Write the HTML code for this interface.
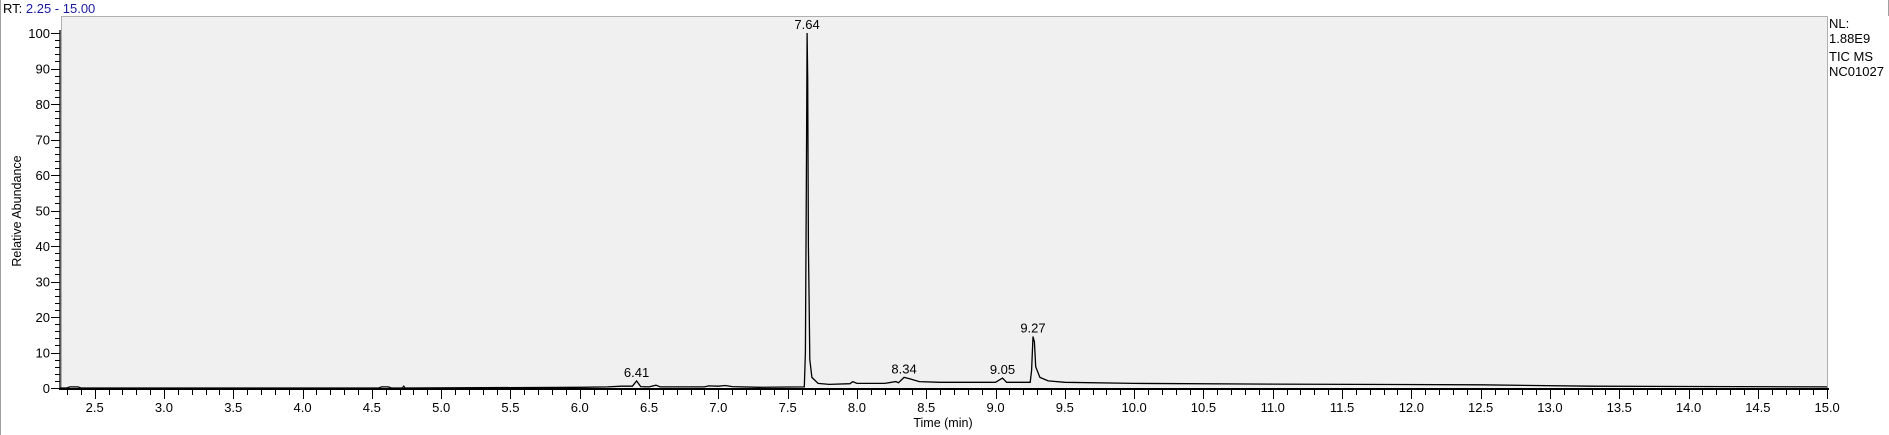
<!DOCTYPE html>
<html><head><meta charset="utf-8"><style>
html,body{margin:0;padding:0;background:#fff;width:1889px;height:435px;overflow:hidden}
svg{display:block;font-family:"Liberation Sans",Arial,sans-serif}
</style></head><body>
<svg width="1889" height="435" xmlns="http://www.w3.org/2000/svg">
<line x1="0.5" y1="0" x2="0.5" y2="435" stroke="#a0a0a0"/>
<line x1="1888.5" y1="0" x2="1888.5" y2="16" stroke="#a0a0a0"/>
<text x="3" y="13" font-size="13"><tspan fill="#000">RT: </tspan><tspan fill="#1a1aa0">2.25 - 15.00</tspan></text>
<rect x="61.5" y="16.5" width="1766" height="372" fill="#f0f0f0" stroke="#b0b0b0"/>
<g font-size="13" fill="#000">
<text x="1829" y="28">NL:</text><text x="1829" y="43">1.88E9</text>
<text x="1829" y="61">TIC  MS</text><text x="1829" y="76">NC01027</text>
</g>
<g id="axes"></g>
<path id="trace" fill="none" stroke="#000" stroke-width="1.3"/>
<g id="labels" font-size="13" fill="#000" text-anchor="middle"></g>
<text x="943" y="427" font-size="12.5" text-anchor="middle">Time (min)</text>
<text x="0" y="0" font-size="12.5" text-anchor="middle" transform="translate(21,211) rotate(-90)">Relative Abundance</text>
</svg>
<script>
const times=[2.25,2.3,2.32,2.38,2.4,4.55,4.57,4.62,4.64,4.72,4.73,4.74,6.0,6.2,6.3,6.38,6.41,6.44,6.5,6.55,6.58,6.9,6.93,7.0,7.05,7.1,7.3,7.62,7.628,7.635,7.64,7.645,7.65,7.655,7.66,7.675,7.72,7.8,7.95,7.97,8.0,8.2,8.28,8.3,8.34,8.38,8.45,8.6,9.0,9.05,9.08,9.25,9.26,9.27,9.28,9.29,9.32,9.38,9.5,10,11,12.5,13.3,15];
const abundance=[0,0,0.3,0.3,0,0,0.3,0.3,0,0,0.5,0,0.2,0.3,0.5,0.5,2.0,0.4,0.3,0.8,0.3,0.3,0.6,0.5,0.7,0.4,0.2,0.3,10,60,100,87,40,25,8,3,1.3,1.0,1.2,1.8,1.3,1.3,1.8,1.5,3,2.6,1.8,1.6,1.6,2.8,1.6,1.6,5,14.5,13,6,3,2,1.6,1.3,1.1,0.9,0.5,0.3];
const peakLabels=["6.41","7.64","8.34","9.05","9.27"];
const peakTimes=[6.41,7.64,8.34,9.05,9.27];
const peakHeights=[2.0,100,3,2.8,14.5];
const xTickLabels=["2.5","3.0","3.5","4.0","4.5","5.0","5.5","6.0","6.5","7.0","7.5","8.0","8.5","9.0","9.5","10.0","10.5","11.0","11.5","12.0","12.5","13.0","13.5","14.0","14.5","15.0"];
const yTickLabels=["0","10","20","30","40","50","60","70","80","90","100"];
const X=t=>60+(t-2.25)*138.6;
const Y=v=>388-v*3.55;
const ns="http://www.w3.org/2000/svg";
const axes=document.getElementById('axes');
function el(tag,attrs,parent){const e=document.createElementNS(ns,tag);for(const k in attrs)e.setAttribute(k,attrs[k]);parent.appendChild(e);return e;}
const xl=el('line',{x1:59,y1:389,x2:1829,y2:389,stroke:'#000','stroke-width':2},axes);


const yl=el('line',{x1:60,y1:30,x2:60,y2:390,stroke:'#000','stroke-width':1.3},axes);


for(let i=0;i<=127;i++){const t=2.3+i*0.1;const major=Math.abs((t*2)-Math.round(t*2))<1e-6;const x=Math.round(X(t))+0.5;
 const tk=el('line',{x1:x,y1:390,x2:x,y2:major?399:395,stroke:'#000'},axes);
 
 }
xTickLabels.forEach(s=>{const t=parseFloat(s);const tx=el('text',{x:X(t),y:412,'font-size':13,'text-anchor':'middle'},axes);tx.textContent=s;
 
 });
for(let v=0;v<=100;v+=2){const y=Math.round(Y(v))+0.5;const major=v%10===0;
 const tk=el('line',{x1:major?51:55,y1:y,x2:60,y2:y,stroke:'#000'},axes);
 
 }
yTickLabels.forEach(s=>{const v=parseFloat(s);const tx=el('text',{x:50,y:Y(v)+5,'font-size':13,'text-anchor':'end'},axes);tx.textContent=s;
 
 });
document.getElementById('trace').setAttribute('d',times.map((t,i)=>(i?'L':'M')+X(t).toFixed(1)+','+Y(abundance[i]).toFixed(1)).join(''));
const lg=document.getElementById('labels');
peakLabels.forEach((s,i)=>{const tx=el('text',{x:X(peakTimes[i]),y:Y(peakHeights[i])-4},lg);tx.textContent=s;
 
 });
</script>
</body></html>
